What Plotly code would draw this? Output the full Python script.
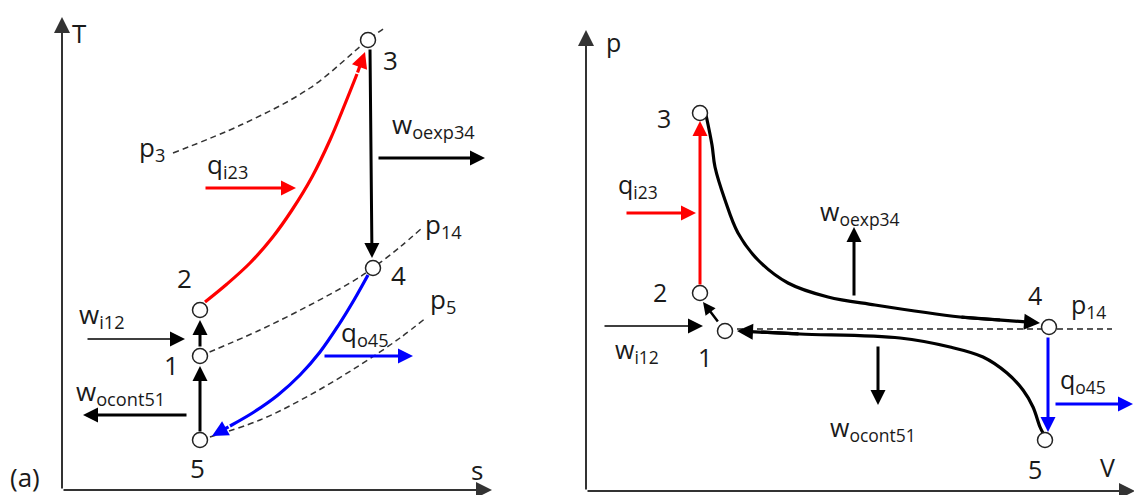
import plotly.graph_objects as go

# ---------------- Panel (a): T-s diagram (arbitrary units) ----------------
ts_labels = ["1", "2", "3", "4", "5"]
ts_s = [13.8, 13.8, 30.6, 31.1, 13.8]
ts_T = [13.4, 18.0, 45.0, 22.2, 5.0]

heat_in_s = [14.3, 16.5, 18.8, 21.0, 23.0, 25.0, 26.8, 28.3, 29.5, 30.3]
heat_in_T = [18.8, 20.6, 22.7, 25.2, 28.0, 31.3, 35.0, 38.6, 41.6, 43.8]

heat_out_s = [30.6, 29.2, 27.6, 25.8, 23.8, 21.6, 19.2, 16.8, 15.0]
heat_out_T = [21.5, 19.0, 16.4, 13.8, 11.5, 9.5, 7.8, 6.4, 5.4]

isobar_p3_s = [11.1, 18.1, 24.8, 30.6, 32.4]
isobar_p3_T = [33.7, 36.6, 40.2, 45.0, 46.3]
isobar_p14_s = [13.8, 19.8, 24.8, 28.8, 31.1, 33.8, 36.0]
isobar_p14_T = [13.4, 16.0, 18.5, 20.7, 22.2, 24.3, 26.2]
isobar_p5_s = [13.8, 19.8, 24.8, 29.8, 33.8, 36.5]
isobar_p5_T = [5.0, 7.0, 9.5, 12.5, 15.2, 17.3]

# straight arrows (tail_s, tail_T, tip_s, tip_T, colour, width)
ts_arrows = [
    (13.8, 5.7, 13.8, 12.4, "black", 3),     # 5 -> 1
    (13.8, 14.2, 13.8, 17.0, "black", 3),    # 1 -> 2
    (30.8, 44.2, 31.0, 23.2, "black", 3),    # 3 -> 4
    (14.2, 30.2, 23.4, 30.2, "red", 3),      # q_i23
    (31.5, 33.2, 42.3, 33.2, "black", 3),    # w_oexp34
    (2.4, 15.1, 12.3, 15.1, "black", 1.5),   # w_i12
    (26.1, 13.4, 35.1, 13.4, "blue", 3),     # q_o45
    (12.6, 7.5, 2.1, 7.5, "black", 3),       # w_ocont51
]
ts_texts = [
    ("T", 1.7, 45.7), ("s", 41.5, 2.0), ("(a)", -3.7, 1.3),
    ("3", 32.8, 43.0), ("2", 12.2, 21.2), ("1", 10.9, 12.5),
    ("4", 33.6, 21.5), ("5", 13.5, 2.2),
    ("p<sub>3</sub>", 9.0, 34.2), ("p<sub>14</sub>", 38.1, 26.5),
    ("p<sub>5</sub>", 38.1, 19.0), ("q<sub>i23</sub>", 16.5, 32.5),
    ("w<sub>oexp34</sub>", 37.1, 36.5), ("w<sub>i12</sub>", 4.0, 17.5),
    ("q<sub>o45</sub>", 30.3, 15.7), ("w<sub>ocont51</sub>", 5.8, 9.8),
]

# ---------------- Panel (b): p-V diagram (arbitrary units) ----------------
pv_labels = ["1", "2", "3", "4", "5"]
pv_V = [13.9, 11.4, 11.4, 46.3, 45.9]
pv_p = [16.0, 19.8, 37.8, 16.4, 5.1]

expansion_V = [12.0, 12.6, 12.9, 13.9, 15.2, 17.2, 20.2, 24.2, 28.9, 37.4, 41.4, 45.4]
expansion_p = [37.6, 34.6, 32.4, 29.1, 25.8, 23.1, 20.8, 19.4, 18.6, 17.4, 17.1, 16.8]

compression_V = [45.7, 45.4, 44.7, 43.7, 42.1, 39.7, 36.4, 31.4, 21.4, 17.5, 15.1]
compression_p = [5.8, 6.4, 8.4, 10.1, 11.8, 13.4, 14.4, 15.3, 15.7, 15.9, 16.0]

isobar_b_V = [15.1, 52.6]
isobar_b_p = [16.2, 16.2]

pv_arrows = [
    (11.4, 20.5, 11.4, 37.0, "red", 3),      # 2 -> 3
    (13.3, 16.8, 11.7, 18.9, "black", 2.5),  # 1 -> 2
    (46.2, 15.5, 46.2, 5.9, "blue", 3),      # 4 -> 5
    (3.9, 27.8, 11.0, 27.8, "red", 3),       # q_i23
    (1.7, 16.5, 11.7, 16.5, "black", 1.5),   # w_i12
    (26.8, 19.4, 26.8, 26.4, "black", 3),    # w_oexp34
    (29.2, 14.6, 29.2, 8.6, "black", 3),     # w_ocont51
    (46.8, 8.7, 54.7, 8.7, "blue", 3),       # q_o45
]
pv_texts = [
    ("p", 2.7, 44.9), ("V", 52.1, 2.4), ("(b)", -3.1, 1.6),
    ("3", 7.8, 37.3), ("2", 7.4, 19.9), ("1", 11.9, 13.4),
    ("4", 44.9, 19.6), ("5", 44.9, 2.2),
    ("p<sub>14</sub>", 50.2, 18.6), ("q<sub>i23</sub>", 5.2, 30.6),
    ("w<sub>oexp34</sub>", 27.4, 27.9), ("w<sub>i12</sub>", 5.1, 14.1),
    ("w<sub>ocont51</sub>", 28.7, 6.3), ("q<sub>o45</sub>", 49.7, 11.1),
]

FONT = "Open Sans"
fig = go.Figure()
ann = []


def line(xs, ys, xa, ya, color, width, dash=None):
    fig.add_trace(go.Scatter(x=xs, y=ys, xaxis=xa, yaxis=ya, mode="lines",
                             line=dict(color=color, width=width, dash=dash, shape="spline"),
                             hoverinfo="skip", showlegend=False))


def arrow(x0, y0, x1, y1, xa, ya, color, width, size=1.0):
    ann.append(dict(x=x1, y=y1, ax=x0, ay=y0, xref=xa, yref=ya, axref=xa, ayref=ya,
                    text="", showarrow=True, arrowhead=2, arrowsize=size,
                    arrowwidth=width, arrowcolor=color, standoff=0, startstandoff=0))


def label(t, x, y, xa, ya, size):
    ann.append(dict(x=x, y=y, xref=xa, yref=ya, text=t, showarrow=False,
                    xanchor="center", yanchor="middle",
                    font=dict(family=FONT, size=size, color="#1a1a1a")))


def curve_with_head(xs, ys, xa, ya, color, width):
    # curve drawn up to the last data point before the tip, head overlaps last segment
    line(xs[:-1], ys[:-1], xa, ya, color, width)
    arrow(xs[-3], ys[-3], xs[-1], ys[-1], xa, ya, color, width)


# ----- panel a -----
DASH = "6px,4px"
DCOL = "#333333"
line(isobar_p3_s, isobar_p3_T, "x", "y", DCOL, 1.5, DASH)
line(isobar_p14_s, isobar_p14_T, "x", "y", DCOL, 1.5, DASH)
line(isobar_p5_s, isobar_p5_T, "x", "y", DCOL, 1.5, DASH)
line(heat_in_s[:-1], heat_in_T[:-1], "x", "y", "red", 3.2)
arrow(heat_in_s[-2], heat_in_T[-2], heat_in_s[-1], heat_in_T[-1], "x", "y", "red", 3.2)
line(heat_out_s[:-1], heat_out_T[:-1], "x", "y", "blue", 3.2)
arrow(heat_out_s[-2], heat_out_T[-2], heat_out_s[-1], heat_out_T[-1], "x", "y", "blue", 3.2)
for (x0, y0, x1, y1, c, w) in ts_arrows:
    arrow(x0, y0, x1, y1, "x", "y", c, w, 2.0 if w < 2 else 1.0)
fig.add_trace(go.Scatter(x=ts_s, y=ts_T, xaxis="x", yaxis="y", mode="markers",
                         marker=dict(size=15, color="white", line=dict(color="#222", width=1.5)),
                         hoverinfo="skip", showlegend=False))
# axes arrows
arrow(0, 0, 0, 47.3, "x", "y", "#333333", 2, 1.6)
arrow(0, 0, 43.0, 0, "x", "y", "#333333", 2, 1.6)
for (t, x, y) in ts_texts:
    label(t, x, y, "x", "y", 26)

# ----- panel b -----
line(isobar_b_V, isobar_b_p, "x2", "y2", "#222222", 1.4, DASH)
curve_with_head(expansion_V, expansion_p, "x2", "y2", "black", 3.2)
curve_with_head(compression_V, compression_p, "x2", "y2", "black", 3.2)
for (x0, y0, x1, y1, c, w) in pv_arrows:
    arrow(x0, y0, x1, y1, "x2", "y2", c, w, 2.0 if w < 2 else 1.0)
fig.add_trace(go.Scatter(x=pv_V, y=pv_p, xaxis="x2", yaxis="y2", mode="markers",
                         marker=dict(size=15, color="white", line=dict(color="#222", width=1.5)),
                         hoverinfo="skip", showlegend=False))
arrow(0, 0, 0, 46.1, "x2", "y2", "#333333", 2, 1.6)
arrow(0, 0, 54.9, 0, "x2", "y2", "#333333", 2, 1.6)
for (t, x, y) in pv_texts:
    label(t, x, y, "x2", "y2", 25)

ax_common = dict(visible=False, showgrid=False, zeroline=False, fixedrange=True)
fig.update_layout(
    width=1134, height=495, autosize=False,
    margin=dict(l=0, r=0, t=0, b=0),
    paper_bgcolor="white", plot_bgcolor="white",
    xaxis=dict(domain=[0, 581 / 1134], range=[-6.2, 51.9], **ax_common),
    yaxis=dict(domain=[0, 1], range=[-0.5, 49.0], **ax_common),
    xaxis2=dict(domain=[581 / 1134, 1], range=[-0.5, 54.8], **ax_common),
    yaxis2=dict(domain=[0, 1], range=[-0.4, 49.1], anchor="x2", **ax_common),
    annotations=ann,
    showlegend=False,
)
fig.write_html("out.html", config={"displayModeBar": False},
               post_script="document.body.style.margin='0px';")
